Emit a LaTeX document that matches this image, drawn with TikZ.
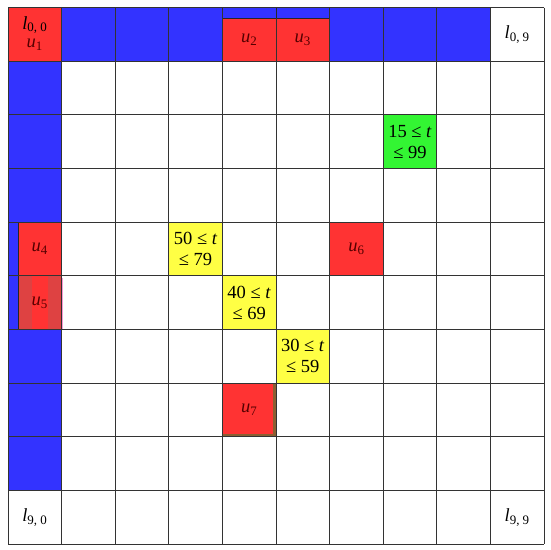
\documentclass[tikz,border=0pt]{standalone}
\usepackage{fontspec}
\setmainfont{Liberation Serif}
\definecolor{cblue}{RGB}{51,51,255}
\definecolor{cred}{RGB}{255,51,51}
\definecolor{cdred}{RGB}{222,66,66}
\definecolor{cyellow}{RGB}{255,255,68}
\definecolor{cgreen}{RGB}{51,245,51}
\definecolor{cbrown}{RGB}{140,95,50}
\definecolor{ctext}{RGB}{85,0,0}
\newcommand\cellfill[3]{\fill[#3] ({8+53.6*#2},{7.5+53.65*#1}) rectangle ({8+53.6*(#2+1)},{7.5+53.65*(#1+1)});}
\begin{document}
\begin{tikzpicture}[x=1pt,y=-1pt,
  gridline/.style={draw=black!80,line width=0.9pt},
  edge/.style={draw=black!85,line width=0.7pt},
  lab/.style={font=\fontsize{18.5}{21}\selectfont, align=center, inner sep=0pt},
  ulab/.style={lab, text=ctext}]
\useasboundingbox (0,0) rectangle (550,550);
\fill[white] (0,0) rectangle (550,550);
% blue top row and left column
\foreach \c in {1,...,8} { \cellfill{0}{\c}{cblue} }
\foreach \r in {1,...,8} { \cellfill{\r}{0}{cblue} }
% red full cells
\cellfill{0}{0}{cred}
\cellfill{4}{6}{cred}
\cellfill{7}{4}{cred}
% yellow / green
\cellfill{4}{3}{cyellow}
\cellfill{5}{4}{cyellow}
\cellfill{6}{5}{cyellow}
\cellfill{2}{7}{cgreen}
% inset red cells
\fill[cred] (222.4,18) rectangle (329.6,61.2);
\draw[edge] (222.4,18) -- (329.6,18);
\fill[cred] (18,222.1) rectangle (61.6,275.75);
\draw[edge] (18,222.1) -- (18,275.75);
\fill[cdred] (18,275.75) rectangle (61.6,329.4);
\fill[cred] (32,275.75) rectangle (48,329.4);
\draw[edge] (18,275.75) -- (18,329.4);
\draw[magenta!40,line width=1pt] (62.5,278) -- (62.5,329);
% u7 brown border
\draw[cbrown,line width=2.5pt] (223,435.2) -- (274.6,435.2) -- (274.6,383.5);
% grid
\foreach \i in {0,...,10} {
  \draw[gridline] ({8+53.6*\i},7.5) -- ({8+53.6*\i},544);
  \draw[gridline] (8,{7.5+53.65*\i}) -- (544,{7.5+53.65*\i});
}
\draw[edge] (276,7.5) -- (276,18);
% labels
\node[lab] (l00) at (34.8,25) {\textit{l}\textsubscript{0, 0}};
\node[ulab] (u1) at (34.8,45) {\textit{u}\textsubscript{1}};
\node[lab] (l09) at (517.2,34.3) {\textit{l}\textsubscript{0, 9}};
\node[lab] (l90) at (34.8,517.7) {\textit{l}\textsubscript{9, 0}};
\node[lab] (l99) at (517.2,517.7) {\textit{l}\textsubscript{9, 9}};
\node[ulab] (u2) at (249.2,39.6) {\textit{u}\textsubscript{2}};
\node[ulab] (u3) at (302.8,39.6) {\textit{u}\textsubscript{3}};
\node[ulab] (u4) at (39.8,248.9) {\textit{u}\textsubscript{4}};
\node[ulab] (u5) at (39.8,302.6) {\textit{u}\textsubscript{5}};
\node[ulab] (u6) at (356.4,248.9) {\textit{u}\textsubscript{6}};
\node[ulab] (u7) at (249.2,409.6) {\textit{u}\textsubscript{7}};
\node[lab] (t1) at (410,141.6) {15 ≤ \textit{t}\\≤ 99};
\node[lab] (t2) at (195.6,248.9) {50 ≤ \textit{t}\\≤ 79};
\node[lab] (t3) at (249.2,302.6) {40 ≤ \textit{t}\\≤ 69};
\node[lab] (t4) at (302.8,356.2) {30 ≤ \textit{t}\\≤ 59};
\end{tikzpicture}
\end{document}
